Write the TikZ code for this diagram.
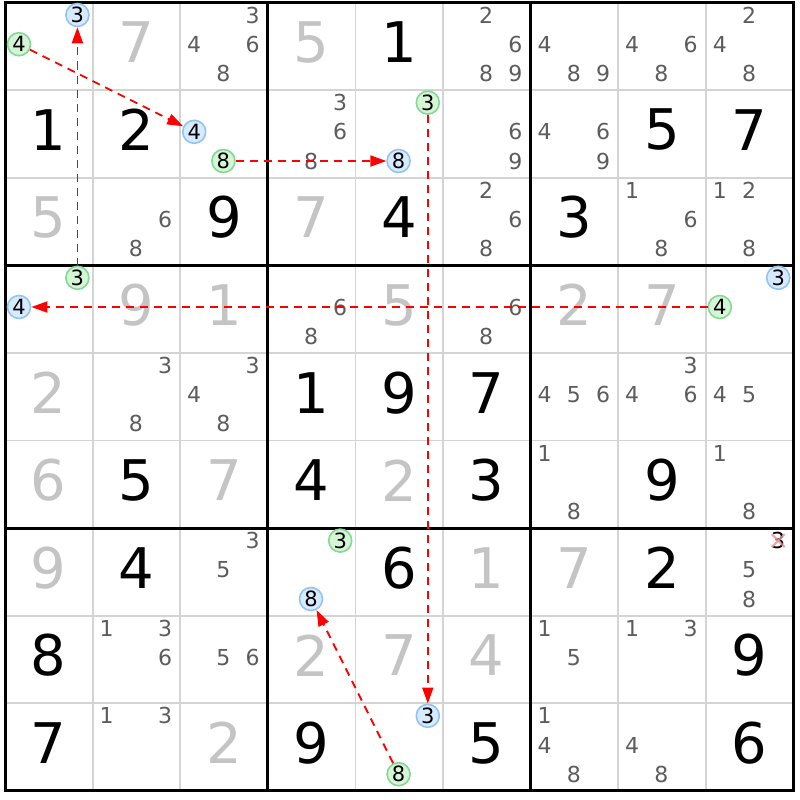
\documentclass[tikz,border=0pt]{standalone}
\usepackage{fontspec}
\setmainfont{DejaVu Sans}
\usetikzlibrary{arrows.meta}
\definecolor{candgray}{HTML}{5C5C5C}
\definecolor{givengray}{HTML}{C4C4C4}
\definecolor{thingrid}{HTML}{D4D4D4}
\definecolor{gfill}{HTML}{D6F5D6}
\definecolor{gdraw}{HTML}{84D894}
\definecolor{bfill}{HTML}{D8EAFF}
\definecolor{bdraw}{HTML}{92C4F2}
\definecolor{xred}{HTML}{F58A98}
\def\cs{87.6}
\def\gx{5}
\def\gy{2.5}
\tikzset{
  bigblack/.style={font=\fontsize{56}{56}\selectfont, text=black, inner sep=0pt},
  biggray/.style={font=\fontsize{56}{56}\selectfont, text=givengray, inner sep=0pt},
  candtext/.style={font=\fontsize{22}{22}\selectfont, text=candgray, inner sep=0pt},
  hlgreen/.style={font=\fontsize{21}{21}\selectfont, text=black, circle, inner sep=0pt, minimum size=23pt, draw=gdraw, fill=gfill, line width=1.6pt},
  hlblue/.style={font=\fontsize{21}{21}\selectfont, text=black, circle, inner sep=0pt, minimum size=23pt, draw=bdraw, fill=bfill, line width=1.6pt},
  link/.style={red, line width=1.8pt, dash pattern=on 8pt off 6pt, -{Triangle[length=16pt,width=11pt]}},
}
\newcommand\bigd[4]{\node[#4] (big-#1-#2) at ({\gx+(#2-0.5)*\cs},{\gy+(#1-0.5)*\cs-4}) {#3};}
\newcommand\candpos[3]{%
  \pgfmathtruncatemacro\subc{mod(#3-1,3)}%
  \pgfmathtruncatemacro\subr{(#3-1)/3}%
  \pgfmathsetmacro\cxx{\gx+(#2-1)*\cs+14+\subc*29.2}%
  \pgfmathsetmacro\cyy{\gy+(#1-1)*\cs+12.5+\subr*29.2}}
\newcommand\cands[3]{\foreach \dd in {#3} {\candpos{#1}{#2}{\dd}\node[candtext] (cand-#1-#2-\dd) at (\cxx,\cyy) {\dd};}}
\newcommand\hl[5]{\candpos{#1}{#2}{#3}\node[#4] (#5) at (\cxx,\cyy) {#3};}
\begin{document}
\begin{tikzpicture}[x=1pt,y=-1pt]
\useasboundingbox (0,0) rectangle (800,800);
\fill[white] (0,0) rectangle (800,800);
% thin grid
\foreach \i in {1,2,4,5,7,8} {
  \draw[thingrid, line width=1.8pt] ({\gx+\i*\cs},\gy) -- ({\gx+\i*\cs},{\gy+9*\cs});
  \draw[thingrid, line width=1.8pt] (\gx,{\gy+\i*\cs}) -- ({\gx+9*\cs},{\gy+\i*\cs});
}
\foreach \i in {0,3,6,9} {
  \draw[black, line width=3pt] ({\gx+\i*\cs},{\gy-1.5}) -- ({\gx+\i*\cs},{\gy+9*\cs+1.5});
  \draw[black, line width=3pt] ({\gx-1.5},{\gy+\i*\cs}) -- ({\gx+9*\cs+1.5},{\gy+\i*\cs});
}
% big digits
\bigd{1}{2}{7}{biggray}\bigd{1}{4}{5}{biggray}\bigd{1}{5}{1}{bigblack}
\bigd{2}{1}{1}{bigblack}\bigd{2}{2}{2}{bigblack}\bigd{2}{8}{5}{bigblack}\bigd{2}{9}{7}{bigblack}
\bigd{3}{1}{5}{biggray}\bigd{3}{3}{9}{bigblack}\bigd{3}{4}{7}{biggray}\bigd{3}{5}{4}{bigblack}\bigd{3}{7}{3}{bigblack}
\bigd{4}{2}{9}{biggray}\bigd{4}{3}{1}{biggray}\bigd{4}{5}{5}{biggray}\bigd{4}{7}{2}{biggray}\bigd{4}{8}{7}{biggray}
\bigd{5}{1}{2}{biggray}\bigd{5}{4}{1}{bigblack}\bigd{5}{5}{9}{bigblack}\bigd{5}{6}{7}{bigblack}
\bigd{6}{1}{6}{biggray}\bigd{6}{2}{5}{bigblack}\bigd{6}{3}{7}{biggray}\bigd{6}{4}{4}{bigblack}\bigd{6}{5}{2}{biggray}\bigd{6}{6}{3}{bigblack}\bigd{6}{8}{9}{bigblack}
\bigd{7}{1}{9}{biggray}\bigd{7}{2}{4}{bigblack}\bigd{7}{5}{6}{bigblack}\bigd{7}{6}{1}{biggray}\bigd{7}{7}{7}{biggray}\bigd{7}{8}{2}{bigblack}
\bigd{8}{1}{8}{bigblack}\bigd{8}{4}{2}{biggray}\bigd{8}{5}{7}{biggray}\bigd{8}{6}{4}{biggray}\bigd{8}{9}{9}{bigblack}
\bigd{9}{1}{7}{bigblack}\bigd{9}{3}{2}{biggray}\bigd{9}{4}{9}{bigblack}\bigd{9}{6}{5}{bigblack}\bigd{9}{9}{6}{bigblack}
% candidates
\cands{1}{3}{3,4,6,8}\cands{1}{6}{2,6,8,9}\cands{1}{7}{4,8,9}\cands{1}{8}{4,6,8}\cands{1}{9}{2,4,8}
\cands{2}{4}{3,6,8}\cands{2}{6}{6,9}\cands{2}{7}{4,6,9}
\cands{3}{2}{6,8}\cands{3}{6}{2,6,8}\cands{3}{8}{1,6,8}\cands{3}{9}{1,2,8}
\cands{4}{4}{6,8}\cands{4}{6}{6,8}
\cands{5}{2}{3,8}\cands{5}{3}{3,4,8}\cands{5}{7}{4,5,6}\cands{5}{8}{3,4,6}\cands{5}{9}{4,5}
\cands{6}{7}{1,8}\cands{6}{9}{1,8}
\cands{7}{3}{3,5}\cands{7}{9}{5,8}
\cands{8}{2}{1,3,6}\cands{8}{3}{5,6}\cands{8}{7}{1,5}\cands{8}{8}{1,3}
\cands{9}{2}{1,3}\cands{9}{7}{1,4,8}\cands{9}{8}{4,8}
% eliminated candidate
\candpos{7}{9}{3}
\node[candtext, text=black] (elim) at (\cxx,\cyy) {3};
\draw[xred, line width=2.2pt, opacity=0.8] ([shift={(-6.5,-6.5)}]elim.center) -- ([shift={(6.5,6.5)}]elim.center);
\draw[xred, line width=2.2pt, opacity=0.8] ([shift={(-6.5,6.5)}]elim.center) -- ([shift={(6.5,-6.5)}]elim.center);
% highlighted candidates
\hl{1}{1}{3}{hlblue}{b3a}\hl{1}{1}{4}{hlgreen}{g4a}
\hl{2}{3}{4}{hlblue}{b4a}\hl{2}{3}{8}{hlgreen}{g8a}
\hl{2}{5}{3}{hlgreen}{g3b}\hl{2}{5}{8}{hlblue}{b8a}
\hl{4}{1}{3}{hlgreen}{g3a}\hl{4}{1}{4}{hlblue}{b4b}
\hl{4}{9}{3}{hlblue}{b3c}\hl{4}{9}{4}{hlgreen}{g4b}
\hl{7}{4}{3}{hlgreen}{g3c}\hl{7}{4}{8}{hlblue}{b8b}
\hl{9}{5}{3}{hlblue}{b3b}\hl{9}{5}{8}{hlgreen}{g8b}
% links
\draw[link] (g4a) -- (b4a);
\draw[link] (g3a) -- (b3a);
\draw[link] (g8a) -- (b8a);
\draw[link] (g3b) -- (b3b);
\draw[link] (g4b) -- (b4b);
\draw[link] (g8b) -- (b8b);
\end{tikzpicture}
\end{document}
